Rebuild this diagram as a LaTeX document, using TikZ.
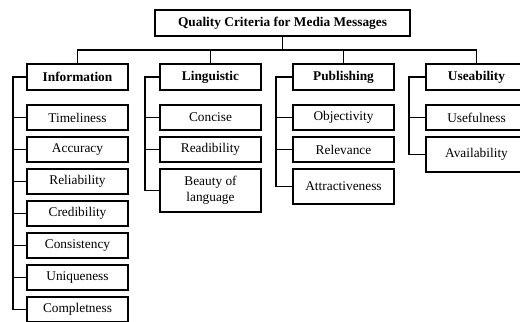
\documentclass[tikz,border=0pt]{standalone}
\usepackage{fontspec}
\setmainfont{Liberation Serif}
\usepackage{tikz}
\usetikzlibrary{positioning}

\begin{document}
\begin{tikzpicture}[
    x=0.75pt, y=-0.75pt,
    node distance=5.25pt,
    heading/.style={
        draw,
        line width=0.9pt,
        minimum width=191.25pt,
        minimum height=19.5pt,
        inner sep=2pt,
        outer sep=0pt,
        font=\bfseries
    },
    group/.style={
        draw,
        line width=0.9pt,
        minimum width=75.75pt,
        minimum height=19.5pt,
        inner sep=2pt,
        outer sep=0pt,
        font=\bfseries
    },
    crit/.style={
        draw,
        line width=0.9pt,
        align=center,
        minimum width=75.75pt,
        minimum height=18.75pt,
        inner sep=2pt,
        outer sep=0pt
    },
    link/.style={
        line width=0.9pt
    }
]

\useasboundingbox (0,0) rectangle (520,321);

%---------------------------------------------------------------------
% Root and groups
%---------------------------------------------------------------------

\node[heading] (root) at (282.5,23) {Quality Criteria for Media Messages};

\node[group] (info) at (77.5,77) {Information};
\node[group, right=24pt of info] (ling) {Linguistic};
\node[group, right=24pt of ling] (pub) {Publishing};
\node[group, right=24pt of pub] (use) {Useability};

%---------------------------------------------------------------------
% Criteria
%---------------------------------------------------------------------

\node[crit, below=11.25pt of info] (info1) {Timeliness};
\node[crit, below=of info1] (info2) {Accuracy};
\node[crit, below=of info2] (info3) {Reliability};
\node[crit, below=of info3] (info4) {Credibility};
\node[crit, below=of info4] (info5) {Consistency};
\node[crit, below=of info5] (info6) {Uniqueness};
\node[crit, below=of info6] (info7) {Completness};

\node[crit, below=11.25pt of ling] (ling1) {Concise};
\node[crit, below=of ling1] (ling2) {Readibility};
\node[crit, below=of ling2, minimum height=32.25pt] (ling3) {Beauty of\\language};

\node[crit, below=11.25pt of pub] (pub1) {Objectivity};
\node[crit, below=of pub1] (pub2) {Relevance};
\node[crit, below=of pub2, minimum height=26.25pt] (pub3) {Attractiveness};

\node[crit, below=11.25pt of use] (use1) {Usefulness};
\node[crit, below=of use1, minimum height=26.25pt] (use2) {Availability};

%---------------------------------------------------------------------
% Tree lines
%---------------------------------------------------------------------

\draw[link] (root.south) -- ++(0,14) coordinate (bus);
\draw[link] (info.north) |- (bus) -| (use.north);
\draw[link] (ling.north) -- (ling.north |- bus);
\draw[link] (pub.north) -- (pub.north |- bus);

\draw[link] (info.west) -- ++(-14,0) |- (info7.west);
\draw[link] (info1.west) -- ++(-14,0);
\draw[link] (info2.west) -- ++(-14,0);
\draw[link] (info3.west) -- ++(-14,0);
\draw[link] (info4.west) -- ++(-14,0);
\draw[link] (info5.west) -- ++(-14,0);
\draw[link] (info6.west) -- ++(-14,0);

\draw[link] (ling.west) -- ++(-15,0) |- (ling3.west);
\draw[link] (ling1.west) -- ++(-15,0);
\draw[link] (ling2.west) -- ++(-15,0);

\draw[link] (pub.west) -- ++(-17,0) |- (pub3.west);
\draw[link] (pub1.west) -- ++(-17,0);
\draw[link] (pub2.west) -- ++(-17,0);

\draw[link] (use.west) -- ++(-17,0) |- (use2.west);
\draw[link] (use1.west) -- ++(-17,0);

\end{tikzpicture}
\end{document}
